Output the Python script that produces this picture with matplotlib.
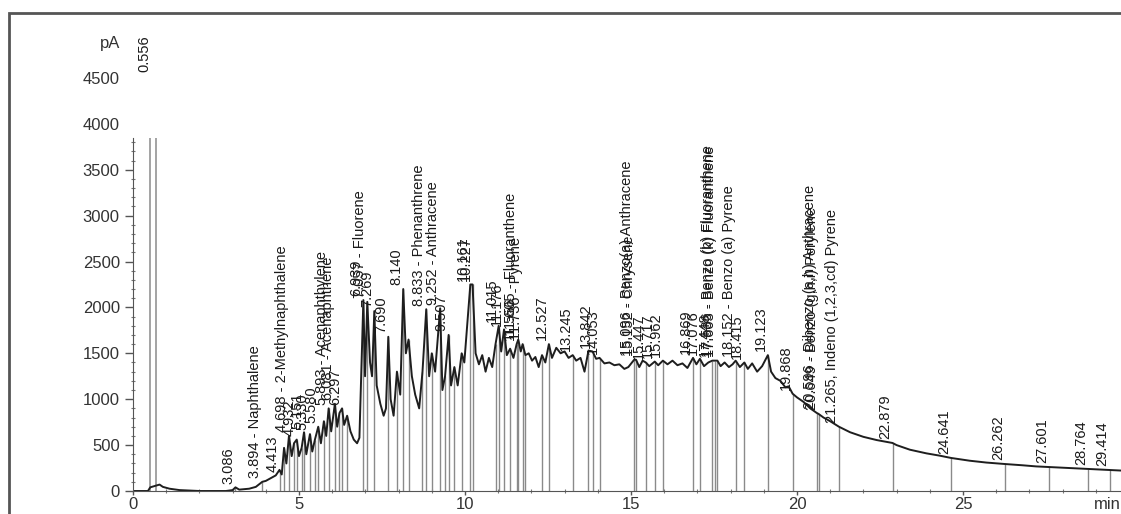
import numpy as np
import matplotlib
matplotlib.use('Agg')
import matplotlib.pyplot as plt
from matplotlib.patches import Rectangle

plt.rcParams['font.family'] = ['Liberation Sans', 'DejaVu Sans']

# signal trace (min, pA)
time_min = [0.00, 0.45, 0.52, 0.70, 0.80, 0.90, 1.10, 1.40, 2.00, 2.80, 3.00, 3.086, 3.20, 3.50, 3.70,
            3.894, 4.00, 4.20, 4.30, 4.413, 4.48, 4.55, 4.62, 4.698, 4.78, 4.85, 4.932, 5.00, 5.08, 5.151,
            5.22, 5.330, 5.40, 5.48, 5.580, 5.66, 5.75, 5.82, 5.893, 5.97, 6.081, 6.15, 6.22, 6.297, 6.36,
            6.45, 6.55, 6.65, 6.75, 6.82, 6.939, 6.99, 7.057, 7.14, 7.20, 7.269, 7.34, 7.45, 7.55, 7.62,
            7.690, 7.76, 7.85, 7.95, 8.05, 8.140, 8.22, 8.30, 8.40, 8.50, 8.62, 8.72, 8.833, 8.92, 9.00,
            9.10, 9.252, 9.32, 9.40, 9.507, 9.58, 9.68, 9.78, 9.90, 9.98, 10.161, 10.227, 10.32, 10.42,
            10.52, 10.62, 10.72, 10.82, 10.92, 11.015, 11.09, 11.176, 11.26, 11.36, 11.46, 11.556, 11.605,
            11.68, 11.736, 11.82, 11.92, 12.02, 12.12, 12.22, 12.32, 12.42, 12.527, 12.62, 12.75, 12.88,
            13.00, 13.12, 13.245, 13.35, 13.48, 13.60, 13.72, 13.842, 13.95, 14.053, 14.20, 14.35, 14.50,
            14.65, 14.80, 14.92, 15.096, 15.152, 15.25, 15.35, 15.447, 15.55, 15.717, 15.82, 15.962,
            16.10, 16.25, 16.40, 16.55, 16.70, 16.869, 16.97, 17.076, 17.20, 17.33, 17.448, 17.536,
            17.603, 17.70, 17.82, 17.95, 18.06, 18.152, 18.28, 18.415, 18.52, 18.65, 18.80, 18.95,
            19.123, 19.22, 19.35, 19.50, 19.65, 19.75, 19.868, 20.00, 20.20, 20.40, 20.596, 20.649,
            20.80, 21.00, 21.265, 21.60, 22.00, 22.40, 22.70, 22.879, 23.00, 23.40, 23.90, 24.30, 24.641,
            25.20, 25.70, 26.262, 26.80, 27.20, 27.601, 28.20, 28.764, 29.414, 29.80]
signal_pa = [0, 0, 40, 60, 70, 45, 25, 10, 0, 0, 10, 40, 15, 25, 45,
             100, 110, 150, 170, 230, 180, 470, 300, 600, 380, 520, 560, 380, 470, 640,
             400, 620, 430, 560, 700, 520, 760, 600, 900, 650, 950, 700, 850, 900, 720,
             820, 650, 560, 520, 580, 2080, 1250, 2060, 1400, 1250, 1960, 1150, 950, 820, 900,
             1680, 1000, 820, 1300, 1050, 2200, 1500, 1650, 1250, 1050, 900, 1300, 1980, 1250, 1500,
             1300, 1990, 1100, 1250, 1700, 1150, 1350, 1150, 1500, 1400, 2250, 2250, 1500, 1380,
             1480, 1300, 1450, 1350, 1600, 1800, 1520, 1760, 1480, 1550, 1450, 1600, 1650,
             1520, 1600, 1480, 1500, 1420, 1460, 1350, 1480, 1400, 1600, 1450, 1560, 1500,
             1520, 1450, 1480, 1420, 1450, 1300, 1530, 1520, 1440, 1450, 1390, 1400, 1370,
             1380, 1330, 1350, 1430, 1430, 1350, 1420, 1400, 1360, 1410, 1370, 1420,
             1380, 1420, 1370, 1390, 1340, 1450, 1380, 1440, 1360, 1400, 1420, 1420,
             1420, 1360, 1400, 1350, 1380, 1420, 1350, 1400, 1330, 1390, 1300, 1360,
             1480, 1300, 1230, 1200, 1130, 1140, 1060, 1020, 970, 900, 850, 840,
             800, 760, 700, 640, 590, 555, 535, 523, 500, 450, 410, 385, 360,
             330, 310, 294, 280, 268, 261, 250, 240, 229, 222]

# solvent peak (off scale)
solvent_times = [0.52, 0.70]
solvent_heights = [3840, 3840]

# peak drop lines (min, pA)
peak_times = [3.086, 3.894, 4.413, 4.55, 4.698, 4.85, 4.932, 5.08, 5.151, 5.330, 5.48, 5.580, 5.75,
              5.893, 6.081, 6.22, 6.297, 6.45, 6.939, 7.057, 7.269, 7.690, 7.95, 8.140, 8.30, 8.72,
              8.833, 9.00, 9.252, 9.40, 9.507, 9.68, 9.90, 10.161, 10.227, 10.92, 11.015, 11.176,
              11.36, 11.556, 11.605, 11.736, 11.82, 12.32, 12.527, 13.245, 13.72, 13.842, 14.053,
              15.096, 15.152, 15.447, 15.717, 15.962, 16.869, 17.076, 17.448, 17.536, 17.603,
              18.152, 18.415, 19.123, 19.868, 20.596, 20.649, 21.265, 22.879, 24.641, 26.262,
              27.601, 28.764, 29.414]
peak_heights = [40, 100, 230, 470, 600, 520, 560, 470, 640, 620, 560, 700, 760,
                900, 950, 850, 900, 820, 2080, 2060, 1960, 1680, 1300, 2200, 1650, 1300,
                1980, 1500, 1990, 1250, 1700, 1350, 1500, 2250, 2250, 1600, 1800, 1760,
                1550, 1600, 1650, 1600, 1480, 1480, 1600, 1480, 1530, 1520, 1450,
                1430, 1430, 1400, 1410, 1420, 1450, 1440, 1420, 1420, 1420,
                1420, 1400, 1480, 1060, 850, 840, 700, 523, 360, 294,
                261, 240, 229]

label_times = [0.556, 3.086, 3.894, 4.413, 4.698, 4.932, 5.151, 5.330, 5.580, 5.893, 6.081, 6.297,
               6.939, 7.057, 7.269, 7.690, 8.140, 8.833, 9.252, 9.507, 10.161, 10.227, 11.015,
               11.176, 11.556, 11.605, 11.736, 12.527, 13.245, 13.842, 14.053, 15.096, 15.152,
               15.447, 15.717, 15.962, 16.869, 17.076, 17.448, 17.536, 17.603, 18.152, 18.415,
               19.123, 19.868, 20.596, 20.649, 21.265, 22.879, 24.641, 26.262, 27.601, 28.764,
               29.414]
label_texts = ['0.556', '3.086', '3.894 - Naphthalene', '4.413', '4.698 - 2-Methylnaphthalene',
               '4.932', '5.151', '5.330', '5.580', '5.893 - Acenaphthylene', '6.081 - Acenaphthene',
               '6.297', '6.939', '7.057 - Fluorene', '7.269', '7.690', '8.140',
               '8.833 - Phenanthrene', '9.252 - Anthracene', '9.507', '10.161', '10.227', '11.015',
               '11.176', '11.556', '11.605 - Fluoranthene', '11.736 - Pyrene', '12.527', '13.245',
               '13.842', '14.053', '15.096 - Benzo(a) Anthracene', '15.152 - Chrysene', '15.447',
               '15.717', '15.962', '16.869', '17.076', '17.448', '17.536 - Benzo (b) Fluoranthene',
               '17.603 - Benzo (k) Fluoranthene', '18.152 - Benzo (a) Pyrene', '18.415', '19.123',
               '19.868', '20.596 - Dibenzo (a,h) Anthracene', '20.649 - Benzo (g,h,i) Perylene',
               '21.265, Indeno (1,2,3,cd) Pyrene', '22.879', '24.641', '26.262', '27.601', '28.764',
               '29.414']
label_heights = [4520, 40, 100, 170, 600, 560, 640, 620, 700, 900, 950, 900,
                 2080, 2060, 1960, 1680, 2200, 1980, 1990, 1700, 2250, 2250, 1800,
                 1760, 1600, 1650, 1600, 1600, 1480, 1520, 1450, 1430, 1430,
                 1400, 1410, 1420, 1450, 1440, 1420, 1420, 1420, 1420, 1400,
                 1480, 1060, 850, 840, 700, 523, 360, 294, 261, 240,
                 229]

W, H = 1121, 514
fig = plt.figure(figsize=(W / 100, H / 100), dpi=100)
ax = fig.add_axes([133 / W, 23 / H, (W - 133) / W, 459 / H])
ax.set_xlim(0, 29.76)
ax.set_ylim(0, 5000)

ax.vlines(solvent_times, 0, solvent_heights, color='#8a8a8a', lw=1.1)
ax.vlines(peak_times, 0, peak_heights, color='#8a8a8a', lw=1.0)
ax.plot(time_min, signal_pa, color='#1e1e1e', lw=1.4)

for t, txt, h in zip(label_times, label_texts, label_heights):
    ax.text(t, h + 40, txt, rotation=90, ha='right', va='bottom', fontsize=10.5,
            color='#1a1a1a', clip_on=False)

for s in ['top', 'right']:
    ax.spines[s].set_visible(False)
ax.spines['left'].set_bounds(0, 3850)
ax.spines['left'].set_color('#555555')
ax.spines['bottom'].set_color('#555555')

ax.set_yticks(np.arange(0, 4501, 500))
ax.set_yticks(np.arange(0, 3801, 100), minor=True)
ax.set_xticks(np.arange(0, 26, 5))
ax.set_xticks(np.arange(0, 30, 1), minor=True)
ax.tick_params(axis='y', which='major', length=6, width=1, color='#555555',
               labelsize=12, labelcolor='#333333')
ax.tick_params(axis='x', which='major', length=3, width=1, color='#555555', pad=1,
               labelsize=12, labelcolor='#333333')
ax.tick_params(axis='both', which='minor', length=3, width=0.8, color='#777777', direction='inout')
for tk in ax.yaxis.get_major_ticks()[-2:]:
    tk.tick1line.set_visible(False)

ax.text(-0.7, 4880, 'pA', ha='center', va='center', fontsize=12, color='#333333', clip_on=False)
ax.text(28.95, -150, 'min', ha='left', va='center', fontsize=12, color='#333333', clip_on=False)

fig.add_artist(Rectangle((9 / W, -0.1), 1.2, 1.1 - 13 / H, transform=fig.transFigure,
                         fill=False, lw=2, ec='#555555'))

fig.savefig('out.png', dpi=100)
